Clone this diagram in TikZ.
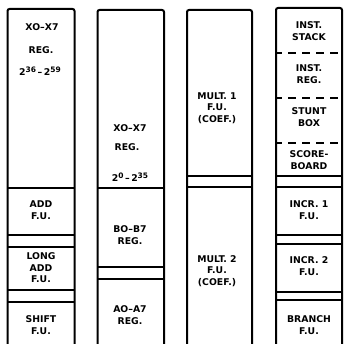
\documentclass[tikz,border=0pt]{standalone}
\usepackage{fontspec}
\setmainfont{DejaVu Sans}
\newcommand{\hiexp}[1]{\raisebox{3.2pt}{\fontsize{7.5pt}{8pt}\selectfont #1}}
\begin{document}
\begin{tikzpicture}[x=1pt,y=-1pt]
		\tikzstyle{every node}=[font=\bfseries\fontsize{9.3pt}{11.5pt}\selectfont, align=center, inner sep=0pt]
		\tikzstyle{wall}=[line width=2pt, rounded corners=2pt]
		\tikzstyle{sep}=[line width=1.5pt]
		\tikzstyle{dsep}=[line width=1.5pt, dash pattern=on 8pt off 6pt, dash phase=2pt]
		\useasboundingbox (0,0) rectangle (349,344);
		
		% column outlines
		\draw[wall] (7.5,344) -- (7.5,9) -- (74.5,9) -- (74.5,344);
		\draw[wall] (97.5,344) -- (97.5,10) -- (164,10) -- (164,344);
		\draw[wall] (187,344) -- (187,10) -- (252,10) -- (252,344);
		\draw[wall] (276,344) -- (276,8) -- (342,8) -- (342,344);
		
		% first column
		\draw[sep] (7.5,188) -- (74.5,188);
		\draw[sep] (7.5,235) -- (74.5,235);
		\draw[sep] (7.5,247) -- (74.5,247);
		\draw[sep] (7.5,290) -- (74.5,290);
		\draw[sep] (7.5,302) -- (74.5,302);
		\node (xhia) at (42,27) {XO--X7};
		\node (xhib) at (41,50) {REG.};
		\node (xhic) at (40,71) {2\hiexp{36}\,--\,2\hiexp{59}};
		\node (add) at (41,210) {ADD\\F.U.};
		\node (longadd) at (41,268) {LONG\\ADD\\F.U.};
		\node (shift) at (41,325) {SHIFT\\F.U.};
		
		% second column
		\draw[sep] (97.5,188) -- (164,188);
		\draw[sep] (97.5,267) -- (164,267);
		\draw[sep] (97.5,279) -- (164,279);
		\node (xloa) at (130,128) {XO--X7};
		\node (xlob) at (127,147) {REG.};
		\node (xloc) at (130,177) {2\hiexp{0}\,--\,2\hiexp{35}};
		\node (breg) at (130,235) {BO--B7\\REG.};
		\node (areg) at (130,315) {AO--A7\\REG.};
		
		% third column
		\draw[sep] (187,176) -- (252,176);
		\draw[sep] (187,187) -- (252,187);
		\node (multa) at (217,108) {MULT. 1\\F.U.\\(COEF.)};
		\node (multb) at (217,271) {MULT. 2\\F.U.\\(COEF.)};
		
		% fourth column
		\draw[dsep] (276,53) -- (342,53);
		\draw[dsep] (276,98) -- (342,98);
		\draw[dsep] (276,143) -- (342,143);
		\draw[sep] (276,176) -- (342,176);
		\draw[sep] (276,187) -- (342,187);
		\draw[sep] (276,235) -- (342,235);
		\draw[sep] (276,244) -- (342,244);
		\draw[sep] (276,292) -- (342,292);
		\draw[sep] (276,300) -- (342,300);
		\node (stack) at (309,31) {INST.\\STACK};
		\node (ireg) at (309,74) {INST.\\REG.};
		\node (stunt) at (309,117) {STUNT\\BOX};
		\node (score) at (309,160) {SCORE-\\BOARD};
		\node (incra) at (309,210) {INCR. 1\\F.U.};
		\node (incrb) at (309,266) {INCR. 2\\F.U.};
		\node (branch) at (309,325) {BRANCH\\F.U.};
		
	\end{tikzpicture}
\end{document}
